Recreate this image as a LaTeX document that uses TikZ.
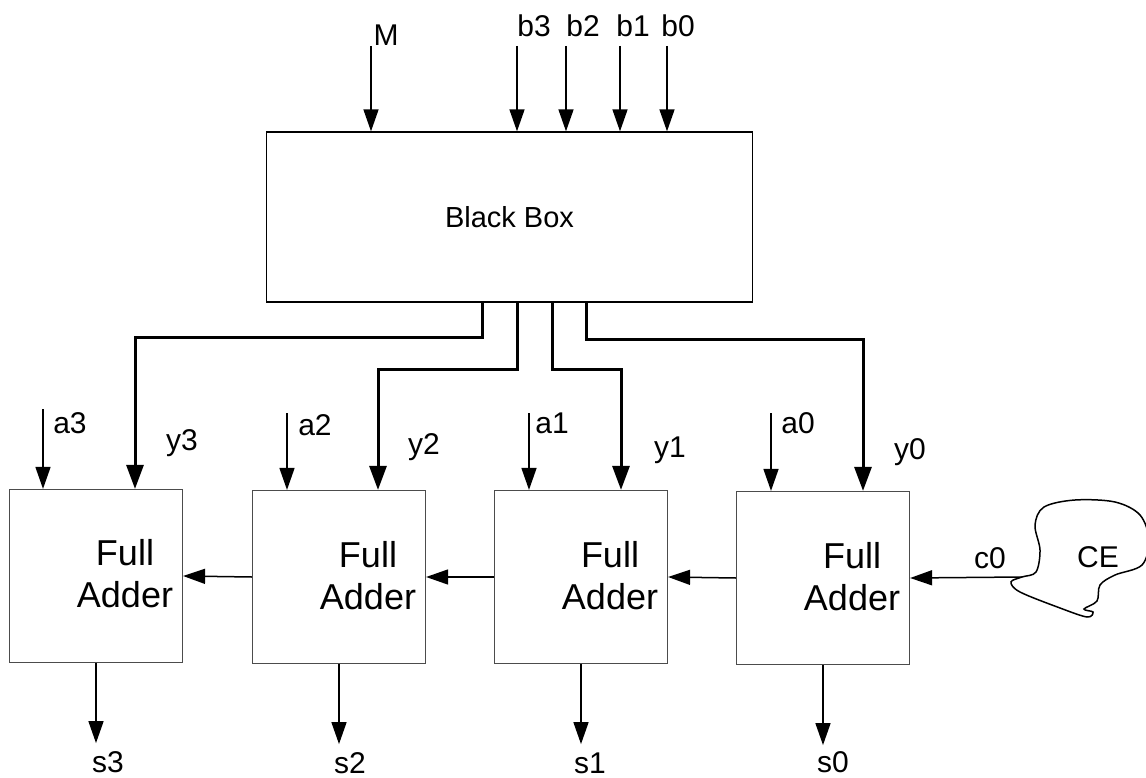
\documentclass[tikz,border=0pt]{standalone}
\usepackage{fontspec}
\setmainfont{Liberation Sans}
\usetikzlibrary{arrows.meta}

\begin{document}
\begin{tikzpicture}[x=1pt,y=-1pt,
        adder/.style={
        draw=black!70, line width=1.2pt,
        minimum width=173pt, minimum height=173pt,
        inner sep=0pt},
        lbl/.style={inner sep=0pt, font=\fontsize{30}{34}\selectfont},
        fatext/.style={inner sep=0pt, align=center, font=\fontsize{36}{42}\selectfont},
        wire/.style={line width=1.5pt, -{Triangle[length=22pt,width=15pt]}},
        bus/.style={line width=3pt, -{Triangle[length=24pt,width=17pt]}},
        ]

        \useasboundingbox (0,0) rectangle (1146,778);

        \node (bb) [draw, line width=1.3pt, minimum width=486pt, minimum height=170pt,
            font=\fontsize{29}{32}\selectfont] at (509.5,217) {Black Box};

        \node (fa3) [adder] at (96,576) {};
        \node (fa2) [adder] at (339,577) {};
        \node (fa1) [adder] at (581,577) {};
        \node (fa0) [adder] at (823,578) {};

        \node (t3) [fatext] at (125,574) {Full\\Adder};
        \node (t2) [fatext] at (368,576) {Full\\Adder};
        \node (t1) [fatext] at (610,576) {Full\\Adder};
        \node (t0) [fatext] at (852,577) {Full\\Adder};

        \node (m) [lbl] at (386,35) {M};
        \node (b3) [lbl] at (534,26) {b3};
        \node (b2) [lbl] at (583,26) {b2};
        \node (b1) [lbl] at (633,26) {b1};
        \node (b0) [lbl] at (678,26) {b0};

        \node (a3) [lbl] at (70,423) {a3};
        \node (a2) [lbl] at (315,425) {a2};
        \node (a1) [lbl] at (552,423) {a1};
        \node (a0) [lbl] at (798,423) {a0};

        \node (y3) [lbl] at (182,443) {y3};
        \node (y2) [lbl] at (424,447) {y2};
        \node (y1) [lbl] at (670,450) {y1};
        \node (y0) [lbl] at (910,452) {y0};

        \node (s3) [lbl] at (108,762) {s3};
        \node (s2) [lbl] at (350,763) {s2};
        \node (s1) [lbl] at (590,763) {s1};
        \node (s0) [lbl] at (833,762) {s0};

        \node (c0) [lbl] at (990,558) {c0};
        \node (ce) [lbl] at (1098,557) {CE};

        \coordinate (mtop) at (371,46);
        \coordinate (b3top) at (517,46);
        \coordinate (b2top) at (566,46);
        \coordinate (b1top) at (620,46);
        \coordinate (b0top) at (667,46);

        \coordinate (a3top) at (43,409);
        \coordinate (a2top) at (287,413);
        \coordinate (a1top) at (529,413);
        \coordinate (a0top) at (771,413);

        \coordinate (y3in) at ([xshift=39pt]fa3.north);
        \coordinate (y2in) at ([xshift=39pt]fa2.north);
        \coordinate (y1in) at ([xshift=40pt]fa1.north);
        \coordinate (y0in) at ([xshift=40pt]fa0.north);

        \coordinate (ceport) at (1022,577);

        \draw[wire] (mtop) -- (mtop |- bb.north);
        \draw[wire] (b3top) -- (b3top |- bb.north);
        \draw[wire] (b2top) -- (b2top |- bb.north);
        \draw[wire] (b1top) -- (b1top |- bb.north);
        \draw[wire] (b0top) -- (b0top |- bb.north);

        \draw[bus] ([xshift=-27.5pt]bb.south) -- ++(0,35) -| (y3in);
        \draw[bus] ([xshift=7.5pt]bb.south) -- ++(0,67) -| (y2in);
        \draw[bus] ([xshift=42.5pt]bb.south) -- ++(0,67) -| (y1in);
        \draw[bus] ([xshift=76.5pt]bb.south) -- ++(0,37) -| (y0in);

        \draw[wire] (a3top) -- (a3top |- fa3.north);
        \draw[wire] (a2top) -- (a2top |- fa2.north);
        \draw[wire] (a1top) -- (a1top |- fa1.north);
        \draw[wire] (a0top) -- (a0top |- fa0.north);

        \draw[wire] (fa2.west) -- (fa3.east);
        \draw[wire] (fa1.west) -- (fa2.east);
        \draw[wire] (fa0.west) -- (fa1.east);
        \draw[wire] (ceport) -- (fa0.east);

        \draw[wire] (fa3.south) -- ++(0,80);
        \draw[wire] (fa2.south) -- ++(0,80);
        \draw[wire] (fa1.south) -- ++(0,80);
        \draw[wire] (fa0.south) -- ++(0,80);

        \draw[line width=1.5pt] plot[smooth cycle, tension=0.55] coordinates {
            (ceport) (1036,572) (1040,550) (1035,525) (1044,507) (1075,500)
            (1115,502) (1140,515) (1149,540) (1142,565) (1115,575) (1100,585)
            (1097,601) (1084,609) (1093,612) (1087,617) (1060,608) (1020,592)
            (1011,582)};
    \end{tikzpicture}
\end{document}
